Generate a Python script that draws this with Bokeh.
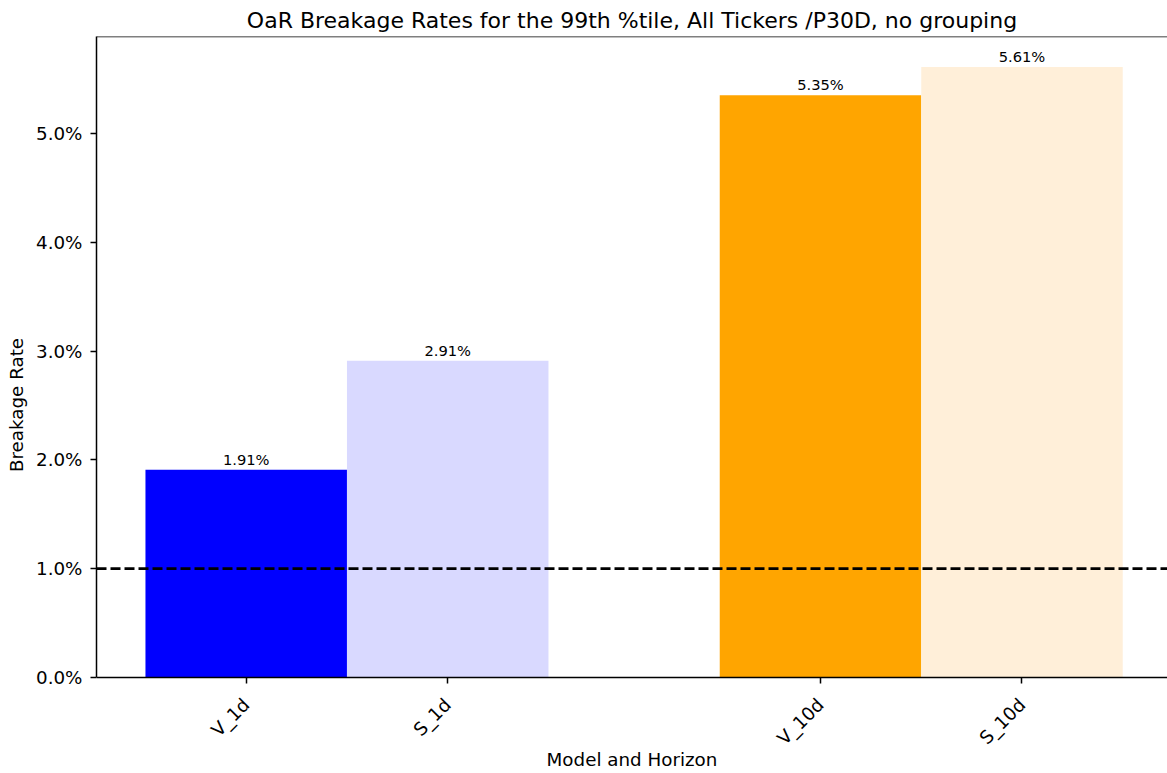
import math
import numpy as np
from bokeh.plotting import figure
from bokeh.models import (ColumnDataSource, FixedTicker, NumeralTickFormatter,
                          Span, LabelSet, Range1d)
from bokeh.core.properties import value
from bokeh.embed import file_html
from bokeh.resources import INLINE

# ---- data ----
models = ["V_1d", "S_1d", "V_10d", "S_10d"]
horizon_group = [0, 0, 1, 1]
model_slot = [0, 1, 0, 1]
rates = [0.0191, 0.0291, 0.0535, 0.0561]
rate_labels = ["1.91%", "2.91%", "5.35%", "5.61%"]
bar_colors = ["#0000ff", "#d9d9ff", "#ffa500", "#ffefd9"]
threshold = 0.01
y_ticks = [0.0, 0.01, 0.02, 0.03, 0.04, 0.05]
title_text = "OaR Breakage Rates for the 99th %tile, All Tickers /P30D, no grouping"
x_label_text = "Model and Horizon"
y_label_text = "Breakage Rate"

# layout of groups (spacing between horizon groups, in bar widths)
group_spacing = 2.85
xpos = (np.array(horizon_group) * group_spacing + np.array(model_slot)).astype(float)

src = ColumnDataSource(dict(x=xpos, top=rates, color=bar_colors,
                            label=rate_labels, model=models))

FONT = "DejaVu Sans"
ymax = max(rates) * 1.05
W, H = 1167, 773
TOP, LEFT = 36, 96
AXES_H = 641          # pixel height from 0 to ymax
frame_h = H - TOP
frame_w = W - LEFT
ymin = -ymax * (frame_h - AXES_H) / AXES_H   # room below the x axis for its labels
x0 = xpos.min() - 0.743
x1 = x0 + frame_w / 201.5

p = figure(width=W, height=H, output_backend="svg", toolbar_location=None,
           x_range=Range1d(x0, x1), y_range=Range1d(ymin, ymax),
           min_border_left=LEFT, min_border_top=TOP, min_border_right=0,
           min_border_bottom=0)

p.vbar(x="x", top="top", bottom=0, width=1.0, fill_color="color",
       line_color=None, source=src)

p.add_layout(Span(location=threshold, dimension="width", line_color="black",
                  line_width=2.75, line_dash="10 4"))

p.add_layout(LabelSet(x="x", y="top", text="label", source=src,
                      text_align="center", text_baseline="bottom", y_offset=2,
                      text_font=value(FONT), text_font_size="14.7px",
                      text_color="black"))

# top spine
p.add_layout(Span(location=ymax, dimension="width", line_color="black",
                  line_width=1.5))

p.title.text = title_text
p.title.align = "center"
p.title.vertical_align = "bottom"
p.title.standoff = 8
p.title.text_font = FONT
p.title.text_font_size = "22px"
p.title.text_font_style = "normal"
p.title.text_color = "black"

p.grid.visible = False
p.outline_line_color = None
p.background_fill_color = "white"
p.border_fill_color = "white"

for ax in (p.xaxis[0], p.yaxis[0]):
    ax.axis_line_color = "black"
    ax.axis_line_width = 1.5
    ax.major_tick_line_color = "black"
    ax.major_tick_line_width = 1.5
    ax.major_tick_out = 6
    ax.major_tick_in = 0
    ax.minor_tick_line_color = None
    ax.major_label_text_font = FONT
    ax.major_label_text_font_size = "18.3px"
    ax.major_label_text_color = "black"
    ax.axis_label_text_font = FONT
    ax.axis_label_text_font_size = "18.3px"
    ax.axis_label_text_font_style = "normal"
    ax.axis_label_text_color = "black"

p.yaxis.ticker = FixedTicker(ticks=y_ticks)
p.yaxis.formatter = NumeralTickFormatter(format="0.0%")
p.yaxis.axis_label = y_label_text
p.yaxis.major_label_standoff = 8
p.yaxis.axis_label_standoff = 6
p.yaxis.bounds = (0, ymax)

p.xaxis.fixed_location = 0
p.xaxis.ticker = FixedTicker(ticks=list(xpos))
p.xaxis.major_label_overrides = {float(x): m for x, m in zip(xpos, models)}
p.xaxis.major_label_orientation = math.pi / 4
p.xaxis.major_label_standoff = 18
p.xaxis.axis_label = x_label_text
p.xaxis.axis_label_standoff = -10

open("out.html", "w").write(file_html(p, INLINE))
